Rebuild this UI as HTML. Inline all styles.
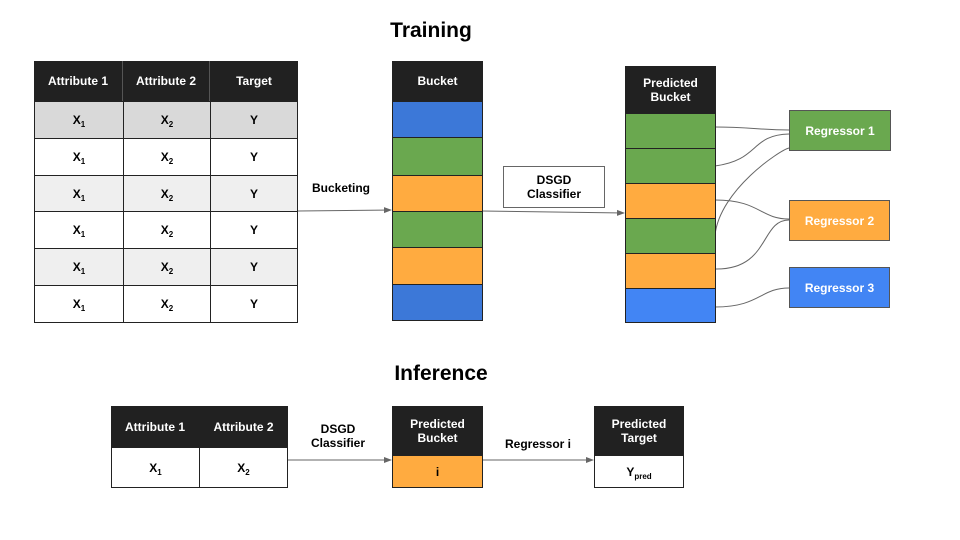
<!DOCTYPE html>
<html><head><style>
body{margin:0;width:960px;height:540px;background:#fff;position:relative;overflow:hidden;font-family:"Liberation Sans",sans-serif;}
.a{position:absolute;box-sizing:border-box;display:flex;align-items:center;justify-content:center;text-align:center;font-weight:bold;font-size:12px;line-height:14px;}
.h{background:#212121;color:#fff;}
.t{position:absolute;font-weight:bold;font-size:21px;transform:translateX(-50%);}
sub{font-size:8px;position:relative;top:5px;line-height:8px;}
</style></head><body>
<div class="t" style="left:431px;top:19px">Training</div>
<div class="t" style="left:441px;top:362px">Inference</div>

<svg width="960" height="540" style="position:absolute;left:0;top:0">
<defs><marker id="m" markerWidth="8" markerHeight="8" refX="7" refY="4" orient="auto" markerUnits="userSpaceOnUse"><path d="M0,1 L8,4 L0,7z" fill="#666"/></marker></defs>
<g fill="none" stroke="#666" stroke-width="1">
<path d="M298,211 L391,210" marker-end="url(#m)"/>
<path d="M482,211 L624,213" marker-end="url(#m)"/>
<path d="M288,460 L391,460" marker-end="url(#m)"/>
<path d="M482,460 L593,460" marker-end="url(#m)"/>
<path d="M715,127 C750,127 760,130 789,130"/>
<path d="M715,166 C760,160 750,135 789,134"/>
<path d="M715,235 C720,190 780,150 789,148"/>
<path d="M715,200 C760,200 760,219 789,219"/>
<path d="M715,269 C770,270 760,220 789,220"/>
<path d="M715,307 C760,307 760,288 789,288"/>
</g>
</svg>

<!-- training table -->
<div class="a h" style="left:34px;top:61px;width:89px;height:40px;border-right:1px solid #555">Attribute 1</div>
<div class="a h" style="left:123px;top:61px;width:87px;height:40px;border-right:1px solid #555">Attribute 2</div>
<div class="a h" style="left:210px;top:61px;width:88px;height:40px">Target</div>
<div id="tt"></div>
<script>
var ys=[101,138,175,211,248,285,322],bg=['#d9d9d9','#fff','#efefef','#fff','#efefef','#fff'],h='';
for(var i=0;i<6;i++){var t=ys[i],hh=ys[i+1]-t;
h+='<div class="a" style="left:34px;top:'+t+'px;width:90px;height:'+(hh+1)+'px;background:'+bg[i]+';border:1px solid #222">X<sub>1</sub></div>';
h+='<div class="a" style="left:123px;top:'+t+'px;width:88px;height:'+(hh+1)+'px;background:'+bg[i]+';border:1px solid #222">X<sub>2</sub></div>';
h+='<div class="a" style="left:210px;top:'+t+'px;width:88px;height:'+(hh+1)+'px;background:'+bg[i]+';border:1px solid #222">Y</div>';}
var by=[101,137,175,211,247,284,320],bc=['#3c78d8','#6aa84f','#ffab40','#6aa84f','#ffab40','#3c78d8'];
for(i=0;i<6;i++)h+='<div class="a" style="left:392px;top:'+by[i]+'px;width:91px;height:'+(by[i+1]-by[i]+1)+'px;background:'+bc[i]+';border:1px solid #222"></div>';
var py=[113,148,183,218,253,288,322],pc=['#6aa84f','#6aa84f','#ffab40','#6aa84f','#ffab40','#4285f4'];
for(i=0;i<6;i++)h+='<div class="a" style="left:625px;top:'+py[i]+'px;width:91px;height:'+(py[i+1]-py[i]+1)+'px;background:'+pc[i]+';border:1px solid #222"></div>';
document.getElementById('tt').innerHTML=h;
</script>
<div class="a h" style="left:392px;top:61px;width:91px;height:40px">Bucket</div>
<div class="a h" style="left:625px;top:66px;width:91px;height:47px">Predicted<br>Bucket</div>
<div class="a" style="left:312px;top:181px">Bucketing</div>
<div class="a" style="left:503px;top:166px;width:102px;height:42px;border:1px solid #666">DSGD<br>Classifier</div>
<div class="a" style="left:789px;top:110px;width:102px;height:41px;background:#6aa84f;color:#fff;border:1px solid #555">Regressor 1</div>
<div class="a" style="left:789px;top:200px;width:101px;height:41px;background:#ffab40;color:#fff;border:1px solid #555">Regressor 2</div>
<div class="a" style="left:789px;top:267px;width:101px;height:41px;background:#4285f4;color:#fff;border:1px solid #555">Regressor 3</div>

<!-- inference -->
<div class="a h" style="left:111px;top:406px;width:89px;height:41px;border-right:1px solid #555">Attribute 1</div>
<div class="a h" style="left:199px;top:406px;width:89px;height:41px">Attribute 2</div>
<div class="a" style="left:111px;top:447px;width:89px;height:41px;border:1px solid #222">X<sub>1</sub></div>
<div class="a" style="left:199px;top:447px;width:89px;height:41px;border:1px solid #222">X<sub>2</sub></div>
<div class="a" style="left:300px;top:422px;width:76px">DSGD<br>Classifier</div>
<div class="a h" style="left:392px;top:406px;width:91px;height:49px">Predicted<br>Bucket</div>
<div class="a" style="left:392px;top:455px;width:91px;height:33px;background:#ffab40;border:1px solid #222">i</div>
<div class="a" style="left:496px;top:437px;width:84px">Regressor i</div>
<div class="a h" style="left:594px;top:406px;width:90px;height:49px">Predicted<br>Target</div>
<div class="a" style="left:594px;top:455px;width:90px;height:33px;border:1px solid #222">Y<sub>pred</sub></div>
</body></html>
